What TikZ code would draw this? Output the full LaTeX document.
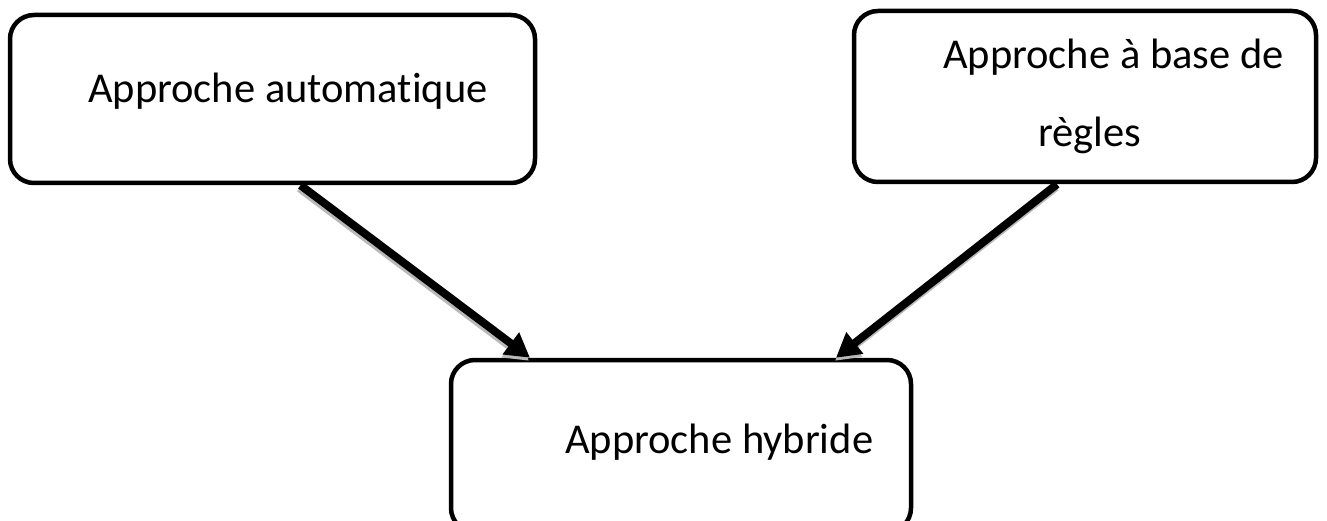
\documentclass[tikz,border=0pt]{standalone}
\usepackage{fontspec}
\setmainfont{Carlito}[Ligatures=NoCommon]
\usetikzlibrary{arrows.meta}

\begin{document}
\begin{tikzpicture}[x=1pt, y=-1pt, box/.style={draw, rounded corners=24pt, line width=4.5pt, inner sep=0pt}, txt/.style={font=\fontsize{42.5}{78}\selectfont, inner sep=0pt}, n/.style={-{Triangle[length=24pt, width=26pt]}, line width=8pt}, sh/.style={n, gray!55, transform canvas={xshift=-1pt, yshift=-3pt}}]
                \useasboundingbox (0,0) rectangle (1327,521);
                % boxes
                \node[box, minimum width=525pt, minimum height=168pt] (auto) at (272.5,99) {};
                \node[box, minimum width=462pt, minimum height=171pt] (regle) at (1085,96.5) {};
                \node[box, minimum width=460pt, minimum height=172pt] (hyb) at (681,446) {};
                % texts
                \node[txt, anchor=base west] (autoTxt) at (88,103) {Approche automatique};
                \node[txt, align=left, anchor=west] (regleTxt) at (943,96) {Approche à base de\\\hspace*{95pt}règles};
                \node[txt, anchor=base west] (hybTxt) at (565,453) {Approche hybride};
                % edges
                \draw [sh] ([xshift=28pt]auto.south) -- ([xshift=-151pt]hyb.north);
                \draw [sh] ([xshift=-28pt]regle.south) -- ([xshift=155pt]hyb.north);
                \draw [n] ([xshift=28pt]auto.south) -- ([xshift=-151pt]hyb.north);
                \draw [n] ([xshift=-28pt]regle.south) -- ([xshift=155pt]hyb.north);
            \end{tikzpicture}
\end{document}
